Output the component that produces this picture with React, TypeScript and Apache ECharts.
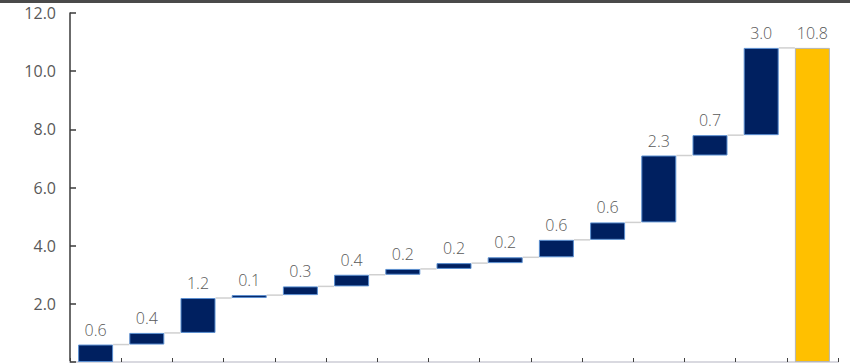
import React, { useEffect, useRef } from "react";
import * as echarts from "echarts";

// Step contributions and the resulting total
const categories = ["1", "2", "3", "4", "5", "6", "7", "8", "9", "10", "11", "12", "13", "14", "Total"];
const increments = [0.6, 0.4, 1.2, 0.1, 0.3, 0.4, 0.2, 0.2, 0.2, 0.6, 0.6, 2.3, 0.7, 3.0];
const total = 10.8;
const yTicks = { min: 0, max: 12, interval: 2 };

const NAVY = "#002060";
const GOLD = "#FFC000";
const TEXT = "#595959";
const FONT = "'Open Sans', 'Liberation Sans', sans-serif";
const BAR_W = 35;

export default function App() {
  const ref = useRef<HTMLDivElement>(null);

  useEffect(() => {
    if (!ref.current) return;
    const chart = echarts.init(ref.current, undefined, { renderer: "svg" });

    // running level after each step
    const levels: number[] = [];
    let run = 0;
    increments.forEach((v) => {
      run = Math.round((run + v) * 10) / 10;
      levels.push(run);
    });
    const bases = increments.map((v, i) => Math.round((levels[i] - v) * 10) / 10).concat([0]);
    const visible = [
      ...increments.map((v) => ({ value: v })),
      { value: total, itemStyle: { color: GOLD, borderColor: "#b4b4b4", borderWidth: 1 } },
    ];
    const connectors = levels.map((lv, i) => [i, lv]);

    chart.setOption({
      animation: false,
      grid: { left: 70, right: 12, top: 13, bottom: 1 },
      xAxis: {
        type: "category",
        data: categories,
        axisLine: { lineStyle: { color: "#d9d9e0", width: 2 } },
        axisTick: { show: true, inside: true, length: 4, lineStyle: { color: "#404040" } },
        axisLabel: { show: false },
      },
      yAxis: {
        type: "value",
        min: yTicks.min,
        max: yTicks.max,
        interval: yTicks.interval,
        splitLine: { show: false },
        axisLine: { show: true, lineStyle: { color: "#3a3a3a", width: 1.5 } },
        axisTick: { show: true, inside: true, length: 6, lineStyle: { color: "#3a3a3a", width: 1.5 } },
        axisLabel: {
          formatter: (v: number) => (v === 0 ? "" : v.toFixed(1)),
          color: TEXT,
          fontFamily: FONT,
          fontSize: 16,
          margin: 14,
        },
      },
      graphic: [
        { type: "rect", left: 0, top: 0, shape: { width: 850, height: 3 }, style: { fill: "#4a4a4a" }, z: 100 },
      ],
      series: [
        {
          type: "bar",
          stack: "w",
          barWidth: BAR_W,
          data: bases,
          itemStyle: { color: "transparent" },
          emphasis: { disabled: true },
          silent: true,
        },
        {
          type: "bar",
          stack: "w",
          barWidth: BAR_W,
          data: visible,
          itemStyle: { color: NAVY, borderColor: "#5b8fd0", borderWidth: 1 },
          label: {
            show: true,
            position: "top",
            distance: 7,
            formatter: (p: any) => Number(p.value).toFixed(1),
            color: TEXT,
            fontFamily: FONT,
            fontWeight: 300,
            fontSize: 16,
          },
          emphasis: { disabled: true },
        },
        {
          type: "custom",
          data: connectors,
          z: 1,
          silent: true,
          renderItem: (params: any, api: any) => {
            const i = api.value(0);
            const lv = api.value(1);
            const a = api.coord([i, lv]);
            const b = api.coord([i + 1, lv]);
            return {
              type: "line",
              shape: { x1: a[0] + BAR_W / 2, y1: a[1], x2: b[0] - BAR_W / 2, y2: b[1] },
              style: { stroke: "#d0d0d0", lineWidth: 1.5 },
            };
          },
        },
      ],
    });

    return () => chart.dispose();
  }, []);

  return (
    <div
      ref={ref}
      style={{ position: "fixed", left: 0, top: 0, width: 850, height: 363, background: "#fff" }}
    />
  );
}
